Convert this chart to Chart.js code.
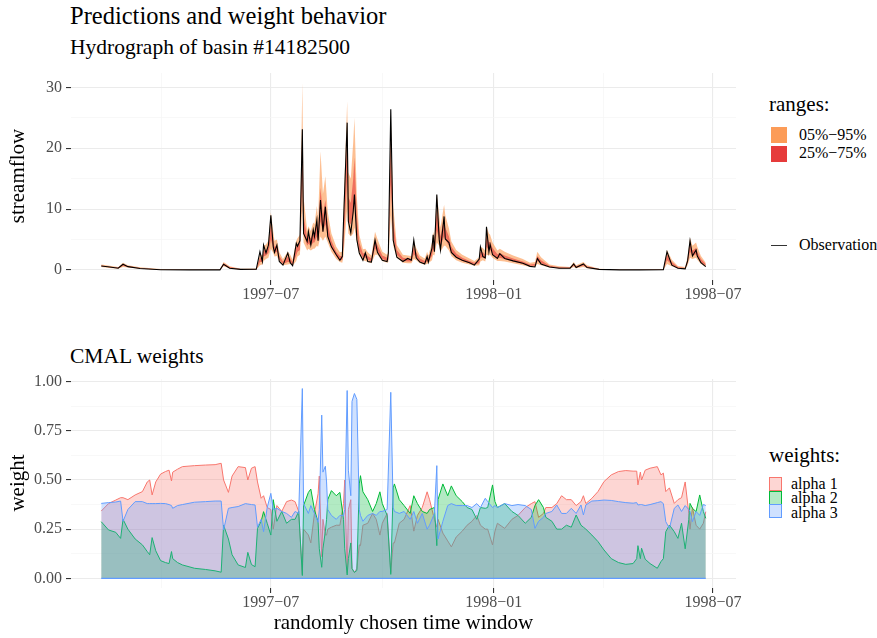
<!DOCTYPE html>
<html>
<head>
<meta charset="utf-8">
<title>Predictions and weight behavior</title>
<script src="https://cdn.jsdelivr.net/npm/chart.js@4.4.1/dist/chart.umd.min.js"></script>
<style>
  body { margin: 0; background: #fff; }
  #wrap { position: relative; width: 877px; height: 638px; overflow: hidden;
          font-family: 'Liberation Serif', 'Times New Roman', serif; color: #000; }
  .t { position: absolute; white-space: nowrap; line-height: 1; }
  canvas { position: absolute; left: 0; }
  .key { position: absolute; box-sizing: border-box; }
</style>
</head>
<body>
<div id="wrap">
  <canvas id="flowChart" width="760" height="270" style="top:60px"></canvas>
  <canvas id="weightChart" width="760" height="268" style="top:370px"></canvas>
</div>
<script>
// days counted from 1997-01-01
var xTickDays = [181, 365, 546];
var xTickLabels = ['1997\u221207', '1998\u221201', '1998\u221207'];
var xMinorDays = [90.5, 273, 455.5];

// hydrograph: observation and predicted quantiles
var flowDays = [41,48,55,59,63,73,90,114,139,142,
  147,156,169,172,174,175,177,179,181,183,
  184,186,188,191,195,197,199,202,203,205,
  207,208,211,212,214,216,217,219,220,222,
  224,226,228,231,235,238,240,241,244,245,
  247,249,250,252,254,257,259,261,264,267,
  269,273,277,278,280,282,285,290,294,297,
  299,301,304,308,310,311,314,315,316,318,
  320,321,324,325,328,330,334,339,345,349,
  353,354,356,358,359,361,362,364,368,370,
  374,381,389,395,399,401,404,411,419,428,
  431,433,439,442,452,469,485,505,508,512,
  517,523,525,527,529,532,533,536,540];
var observation = [0.66,0.5,0.3,0.95,0.55,0.25,0.05,0.02,0.02,0.95,
  0.3,0.1,0.15,3.0,1.4,4.1,2.8,4.1,9.0,3.8,
  2.9,4.1,1.4,0.8,2.8,1.2,0.7,4.4,3.9,4.8,
  23.1,6.0,4.7,6.3,4.1,6.6,5.5,8.2,4.8,11.5,
  6.3,10.4,5.5,3.8,2.5,1.6,2.2,8.0,24.2,8.0,
  6.1,9.6,12.4,5.0,2.8,1.6,2.8,1.4,1.3,4.9,
  2.9,1.6,1.4,2.8,26.4,4.9,2.1,1.4,1.9,1.6,
  4.9,2.0,1.3,1.0,2.2,1.3,3.6,5.8,3.0,12.4,
  4.9,3.3,8.8,5.1,4.5,2.9,2.1,1.6,1.2,0.8,
  1.8,3.8,2.2,2.0,7.1,3.0,4.2,2.5,1.9,2.7,
  1.9,1.5,1.1,0.6,0.5,1.9,1.0,0.5,0.3,0.3,
  1.0,0.4,1.0,0.4,0.1,0.02,0.02,0.05,3.0,0.8,
  0.3,0.2,1.5,4.8,2.3,3.3,2.3,1.2,0.55];
var q05 = [0.5,0.35,0.2,0.5,0.4,0.2,0.02,0,0,0.6,
  0.25,0.05,0.05,0.8,0.9,1.5,1.8,2.0,3.5,2.8,
  2.2,2.3,1.3,0.8,0.9,1.0,0.7,1.5,2.2,2.5,
  10,4.5,3.2,3.5,3.2,3.5,3.5,4.0,3.8,5.5,
  4.8,5.5,4.5,3.0,1.8,1.3,1.2,2.5,10,6.0,
  5.5,6.0,7.0,4.5,2.5,1.6,1.5,1.3,1.1,2.5,
  2.5,1.5,1.2,1.3,9.0,4.0,2.0,1.2,1.1,1.1,
  1.8,1.6,1.1,0.9,1.0,1.1,1.6,2.5,2.4,4.5,
  4.0,3.0,4.0,4.0,3.2,2.3,1.6,1.2,0.9,0.7,
  0.8,1.4,1.6,1.4,2.5,2.4,2.5,2.0,1.5,1.5,
  1.4,1.1,0.8,0.5,0.5,1.0,0.8,0.4,0.25,0.2,
  0.5,0.3,0.5,0.3,0.05,0,0,0.02,1.0,0.6,
  0.25,0.15,0.8,2.0,1.8,2.0,1.7,1.0,0.5];
var q25 = [0.6,0.45,0.3,0.7,0.5,0.25,0.05,0.02,0.02,0.8,
  0.35,0.1,0.1,1.3,1.3,2.2,2.4,2.8,5.0,3.6,
  2.8,3.0,1.7,1.0,1.3,1.3,0.9,2.4,3.0,3.3,
  15,6.0,4.0,4.3,4.0,4.5,4.5,5.5,4.6,8.0,
  6.2,7.5,5.6,3.7,2.3,1.7,1.6,4.0,15,8.0,
  7.5,9.0,11,6.0,3.2,2.0,2.0,1.7,1.4,3.5,
  3.1,1.8,1.5,1.7,14,5.5,2.5,1.5,1.4,1.4,
  2.6,2.1,1.4,1.1,1.4,1.4,2.3,3.4,3.0,6.5,
  5.0,3.8,5.5,5.0,4.0,2.8,2.0,1.5,1.1,0.9,
  1.1,2.0,2.1,1.8,3.8,3.2,3.3,2.6,1.9,2.0,
  1.8,1.4,1.0,0.7,0.7,1.5,1.1,0.5,0.3,0.3,
  0.7,0.4,0.7,0.4,0.1,0.02,0.02,0.05,1.6,0.9,
  0.35,0.25,1.2,3.0,2.3,2.6,2.2,1.3,0.7];
var q75 = [0.75,0.55,0.4,0.95,0.65,0.35,0.1,0.05,0.05,1.1,
  0.5,0.15,0.15,2.0,1.9,3.2,3.3,3.8,7.5,5.0,
  3.8,4.0,2.3,1.4,2.2,1.9,1.3,3.8,4.2,4.6,
  23.5,9.0,5.3,5.8,5.2,6.3,6.0,8.0,6.5,13.5,
  9.0,11.5,7.5,4.8,3.0,2.3,2.3,7.0,22,12,
  11,15,18.5,9.0,4.5,2.7,2.8,2.3,1.9,5.0,
  4.1,2.4,2.0,2.5,21,8.0,3.3,2.0,1.9,1.9,
  3.8,2.9,1.9,1.5,2.2,1.9,3.4,5.0,4.2,10,
  7.0,5.5,8.5,7.0,5.5,3.8,2.7,2.0,1.5,1.2,
  1.6,3.0,2.9,2.5,5.8,4.6,4.6,3.6,2.6,2.8,
  2.4,1.9,1.4,0.9,1.0,2.3,1.6,0.7,0.45,0.4,
  1.0,0.6,1.0,0.6,0.15,0.05,0.05,0.1,2.5,1.3,
  0.5,0.35,1.7,4.3,3.2,3.6,3.0,1.8,1.0];
var q95 = [0.9,0.7,0.5,1.2,0.8,0.45,0.15,0.1,0.1,1.3,
  0.6,0.2,0.25,2.6,2.4,4.0,4.2,4.8,9.5,6.3,
  4.8,5.0,2.9,1.8,3.0,2.5,1.7,4.8,5.2,5.8,
  30.8,12,6.5,7.2,6.4,7.8,7.5,10.5,8.5,19.5,
  12.5,15.4,9.5,6.0,3.8,2.9,3.0,10,27.7,16,
  15,21,25,12,5.8,3.4,3.5,2.9,2.4,6.3,
  5.1,3.0,2.5,3.2,25.5,10.5,4.1,2.5,2.4,2.3,
  4.8,3.6,2.4,1.9,3.0,2.4,4.5,6.3,5.4,12.5,
  9.0,7.0,10.7,9.0,6.8,4.7,3.3,2.5,1.9,1.5,
  2.1,3.8,3.6,3.2,7.2,6.0,5.8,4.5,3.2,3.5,
  3.0,2.4,1.8,1.2,1.3,3.0,2.1,0.9,0.6,0.5,
  1.3,0.8,1.3,0.8,0.2,0.08,0.08,0.15,3.3,1.7,
  0.65,0.5,2.2,5.3,4.0,4.5,3.8,2.3,1.2];
var flowTicks = [0, 10, 20, 30];
var flowMinor = [5, 15, 25];

// CMAL mixture weights
var weightDays = [41,47,53,57,59,63,69,75,79,81,
  83,86,90,94,97,99,100,104,108,118,
  127,135,140,142,146,149,154,160,162,165,
  168,170,173,175,178,181,183,186,190,194,
  198,201,204,207,208,212,214,217,220,221,
  223,224,226,227,228,231,235,238,241,242,
  244,245,247,248,250,252,254,255,257,261,
  265,268,271,273,277,280,282,283,287,291,
  296,299,302,306,310,312,316,318,319,323,
  327,330,334,339,343,347,351,354,358,360,
  364,366,368,374,380,385,391,396,399,402,
  406,408,413,417,421,425,429,433,437,439,
  441,446,451,456,462,468,474,480,483,484,
  486,487,490,494,500,503,505,507,510,514,
  517,520,523,526,527,529,532,535,538,540];
var alpha1 = [0.342,0.38,0.398,0.41,0.41,0.40,0.424,0.441,0.49,0.50,
  0.424,0.49,0.53,0.543,0.55,0.495,0.54,0.555,0.568,0.573,
  0.576,0.578,0.585,0.50,0.437,0.52,0.568,0.563,0.50,0.56,
  0.568,0.49,0.407,0.42,0.36,0.35,0.25,0.37,0.34,0.39,
  0.398,0.39,0.34,0.02,0.25,0.22,0.18,0.33,0.43,0.52,
  0.11,0.30,0.22,0.22,0.25,0.26,0.27,0.27,0.38,0.50,
  0.028,0.35,0.40,0.05,0.03,0.05,0.17,0.166,0.27,0.28,
  0.33,0.30,0.22,0.28,0.33,0.03,0.18,0.18,0.28,0.30,
  0.37,0.24,0.32,0.36,0.44,0.40,0.30,0.26,0.30,0.23,
  0.19,0.16,0.21,0.24,0.27,0.29,0.32,0.27,0.25,0.25,
  0.17,0.24,0.28,0.254,0.30,0.32,0.36,0.38,0.39,0.31,
  0.33,0.36,0.36,0.38,0.42,0.40,0.40,0.37,0.39,0.42,
  0.38,0.407,0.441,0.492,0.526,0.543,0.548,0.545,0.545,0.475,
  0.54,0.50,0.55,0.56,0.568,0.526,0.535,0.441,0.46,0.381,
  0.40,0.41,0.49,0.33,0.25,0.36,0.27,0.25,0.28,0.339];
var alpha2 = [0.288,0.246,0.234,0.203,0.30,0.25,0.20,0.17,0.136,0.12,
  0.207,0.14,0.09,0.08,0.075,0.136,0.10,0.08,0.068,0.051,
  0.045,0.038,0.031,0.27,0.20,0.12,0.068,0.055,0.132,0.07,
  0.059,0.254,0.29,0.339,0.28,0.22,0.40,0.29,0.34,0.28,
  0.30,0.30,0.34,0.014,0.37,0.437,0.454,0.35,0.285,0.15,
  0.056,0.15,0.24,0.30,0.40,0.446,0.42,0.437,0.30,0.15,
  0.017,0.10,0.18,0.05,0.03,0.04,0.48,0.522,0.44,0.40,
  0.34,0.38,0.44,0.38,0.32,0.02,0.46,0.48,0.40,0.37,
  0.33,0.42,0.38,0.34,0.33,0.35,0.36,0.166,0.40,0.48,
  0.42,0.47,0.42,0.39,0.36,0.35,0.30,0.36,0.356,0.36,
  0.475,0.39,0.36,0.38,0.34,0.32,0.28,0.31,0.37,0.40,
  0.36,0.31,0.29,0.25,0.25,0.27,0.26,0.322,0.27,0.26,
  0.25,0.22,0.187,0.144,0.10,0.08,0.071,0.075,0.10,0.166,
  0.10,0.153,0.097,0.075,0.051,0.085,0.10,0.237,0.271,0.237,
  0.203,0.28,0.15,0.30,0.381,0.356,0.339,0.424,0.34,0.305];
var alpha3 = [0.381,0.385,0.388,0.393,0.29,0.35,0.39,0.39,0.38,0.38,
  0.38,0.38,0.381,0.38,0.375,0.37,0.356,0.37,0.375,0.387,
  0.39,0.393,0.393,0.246,0.356,0.36,0.365,0.38,0.378,0.375,
  0.373,0.26,0.30,0.237,0.36,0.432,0.35,0.356,0.34,0.33,
  0.31,0.34,0.33,0.965,0.38,0.33,0.37,0.33,0.285,0.35,
  0.83,0.54,0.57,0.49,0.35,0.32,0.30,0.32,0.32,0.35,
  0.955,0.55,0.42,0.90,0.94,0.91,0.35,0.32,0.29,0.32,
  0.33,0.32,0.34,0.34,0.35,0.946,0.36,0.34,0.33,0.34,
  0.30,0.34,0.28,0.33,0.25,0.27,0.33,0.573,0.20,0.29,
  0.37,0.38,0.37,0.37,0.37,0.36,0.38,0.36,0.407,0.39,
  0.36,0.37,0.36,0.38,0.37,0.375,0.37,0.35,0.254,0.29,
  0.31,0.33,0.34,0.373,0.33,0.33,0.356,0.33,0.373,0.322,
  0.373,0.393,0.395,0.398,0.396,0.39,0.385,0.382,0.385,0.373,
  0.375,0.375,0.37,0.375,0.385,0.39,0.38,0.288,0.254,0.356,
  0.373,0.34,0.37,0.35,0.34,0.288,0.34,0.32,0.376,0.37];
var weightTicks = [0, 0.25, 0.5, 0.75, 1];
var weightMinor = [0.125, 0.375, 0.625, 0.875];
var weightLabels = ['0.00', '0.25', '0.50', '0.75', '1.00'];

var FONT = "'Liberation Serif', 'Times New Roman', serif";
var red = '#F8766D', green = '#00BA38', blue = '#619CFF';

function pts(xs, ys) {
  return xs.map(function (x, i) { return { x: x, y: ys[i] }; });
}

function zeroPadding(s) {
  s.paddingTop = 0; s.paddingBottom = 0; s.paddingLeft = 0; s.paddingRight = 0;
}

function gridOpts(majors) {
  return {
    color: function (c) { return majors.indexOf(c.tick.value) >= 0 ? '#ebebeb' : '#f5f5f5'; },
    lineWidth: function (c) { return majors.indexOf(c.tick.value) >= 0 ? 1.1 : 0.7; },
    tickColor: function (c) { return majors.indexOf(c.tick.value) >= 0 ? '#333333' : 'rgba(0,0,0,0)'; },
    tickWidth: 1.1,
    tickLength: 5
  };
}

function xAxis() {
  return {
    type: 'linear', min: 16.05, max: 564.95,
    afterBuildTicks: function (s) {
      s.ticks = xMinorDays.concat(xTickDays).sort(function (a, b) { return a - b; })
        .map(function (v) { return { value: v }; });
    },
    afterFit: function (s) { s.height = 50; zeroPadding(s); },
    ticks: {
      autoSkip: false, maxRotation: 0, padding: 0.5, color: '#4d4d4d',
      font: { family: FONT, size: 16 },
      callback: function (v) { var i = xTickDays.indexOf(v); return i < 0 ? '' : xTickLabels[i]; }
    },
    grid: gridOpts(xTickDays),
    border: { display: false }
  };
}

function yAxis(min, max, majors, minors, labelFn) {
  return {
    type: 'linear', min: min, max: max,
    afterBuildTicks: function (s) {
      s.ticks = majors.concat(minors).sort(function (a, b) { return a - b; })
        .map(function (v) { return { value: v }; });
    },
    afterFit: function (s) { s.width = 71; zeroPadding(s); },
    ticks: {
      autoSkip: false, padding: 4, color: '#4d4d4d',
      font: { family: FONT, size: 16 },
      callback: function (v) { var i = majors.indexOf(v); return i < 0 ? '' : labelFn(i); }
    },
    grid: gridOpts(majors),
    border: { display: false }
  };
}

var common = {
  responsive: false, animation: false, devicePixelRatio: 1,
  plugins: { legend: { display: false }, tooltip: { enabled: false } },
  elements: { point: { radius: 0 }, line: { tension: 0 } }
};

new Chart(document.getElementById('flowChart'), {
  type: 'line',
  data: {
    datasets: [
      { label: 'Observation', data: pts(flowDays, observation), borderColor: '#000000', borderWidth: 1.1, fill: false, order: 0 },
      { label: '25%', data: pts(flowDays, q25), borderWidth: 0, borderColor: 'rgba(0,0,0,0)', fill: false, order: 2 },
      { label: '25%\u221275%', data: pts(flowDays, q75), borderWidth: 0, borderColor: 'rgba(0,0,0,0)',
        backgroundColor: 'rgba(230,59,59,0.6)', fill: 1, order: 2 },
      { label: '05%', data: pts(flowDays, q05), borderWidth: 0, borderColor: 'rgba(0,0,0,0)', fill: false, order: 3 },
      { label: '05%\u221295%', data: pts(flowDays, q95), borderWidth: 0, borderColor: 'rgba(0,0,0,0)',
        backgroundColor: 'rgba(252,156,88,0.65)', fill: 3, order: 3 }
    ]
  },
  options: Object.assign({}, common, {
    layout: { padding: { top: 13, right: 24, left: 0, bottom: 0 } },
    scales: {
      x: xAxis(),
      y: yAxis(-1.64, 32.35, flowTicks, flowMinor, function (i) { return String(flowTicks[i]); })
    }
  })
});

new Chart(document.getElementById('weightChart'), {
  type: 'line',
  data: {
    datasets: [
      { label: 'alpha 1', data: pts(weightDays, alpha1), borderColor: red, borderWidth: 1,
        backgroundColor: 'rgba(248,118,109,0.3)', fill: 'origin', order: 3 },
      { label: 'alpha 2', data: pts(weightDays, alpha2), borderColor: green, borderWidth: 1,
        backgroundColor: 'rgba(0,186,56,0.3)', fill: 'origin', order: 2 },
      { label: 'alpha 3', data: pts(weightDays, alpha3), borderColor: blue, borderWidth: 1,
        backgroundColor: 'rgba(97,156,255,0.3)', fill: 'origin', order: 1 },
      { label: 'base', data: [{ x: weightDays[0], y: 0 }, { x: weightDays[weightDays.length - 1], y: 0 }],
        borderColor: blue, borderWidth: 1.2, fill: false, order: 0 }
    ]
  },
  options: Object.assign({}, common, {
    layout: { padding: { top: 9, right: 24, left: 0, bottom: 0 } },
    scales: {
      x: xAxis(),
      y: yAxis(-0.0493, 1.0137, weightTicks, weightMinor, function (i) { return weightLabels[i]; })
    }
  })
});

// titles, axis titles and legends
var wrap = document.getElementById('wrap');
function addText(str, x, base, size, opt) {
  opt = opt || {};
  var d = document.createElement('div');
  d.className = 't';
  d.textContent = str;
  d.style.fontSize = size + 'px';
  if (opt.rotate) {
    d.style.left = x + 'px';
    d.style.top = base + 'px';
    d.style.transform = 'translate(-50%,-50%) rotate(-90deg)';
  } else {
    d.style.left = x + 'px';
    d.style.top = (base - 0.8375 * size) + 'px';
    if (opt.center) d.style.transform = 'translateX(-50%)';
  }
  if (opt.color) d.style.color = opt.color;
  wrap.appendChild(d);
}
function addBox(x, y, w, h, bg, border) {
  var d = document.createElement('div');
  d.className = 'key';
  d.style.left = x + 'px'; d.style.top = y + 'px';
  d.style.width = w + 'px'; d.style.height = h + 'px';
  d.style.background = bg;
  if (border) d.style.border = '1px solid ' + border;
  wrap.appendChild(d);
}

addText('Predictions and weight behavior', 70, 25, 24.5);
addText('Hydrograph of basin #14182500', 70, 55, 21.5);
addText('CMAL weights', 70, 364, 21.5);
addText('streamflow', 16.5, 176, 21, { rotate: true });
addText('weight', 16.5, 483, 21, { rotate: true });
addText('randomly chosen time window', 403.5, 630, 21, { center: true });

addText('ranges:', 769, 112, 21);
addBox(771, 127, 16, 16, '#FC9C58');
addBox(771, 146, 16, 16, '#E63B3B');
addText('05%\u221295%', 799, 140, 16);
addText('25%\u221275%', 799, 158.5, 16);
addBox(771, 244.5, 16, 1.2, '#333333');
addText('Observation', 799, 250, 16);

addText('weights:', 769, 463, 21);
addBox(769, 477, 13, 14, 'rgba(248,118,109,0.3)', red);
addBox(769, 490.5, 13, 14, 'rgba(0,186,56,0.3)', green);
addBox(769, 504, 13, 14, 'rgba(97,156,255,0.3)', blue);
addText('alpha 1', 791, 489, 16);
addText('alpha 2', 791, 503.5, 16);
addText('alpha 3', 791, 518, 16);
</script>
</body>
</html>
